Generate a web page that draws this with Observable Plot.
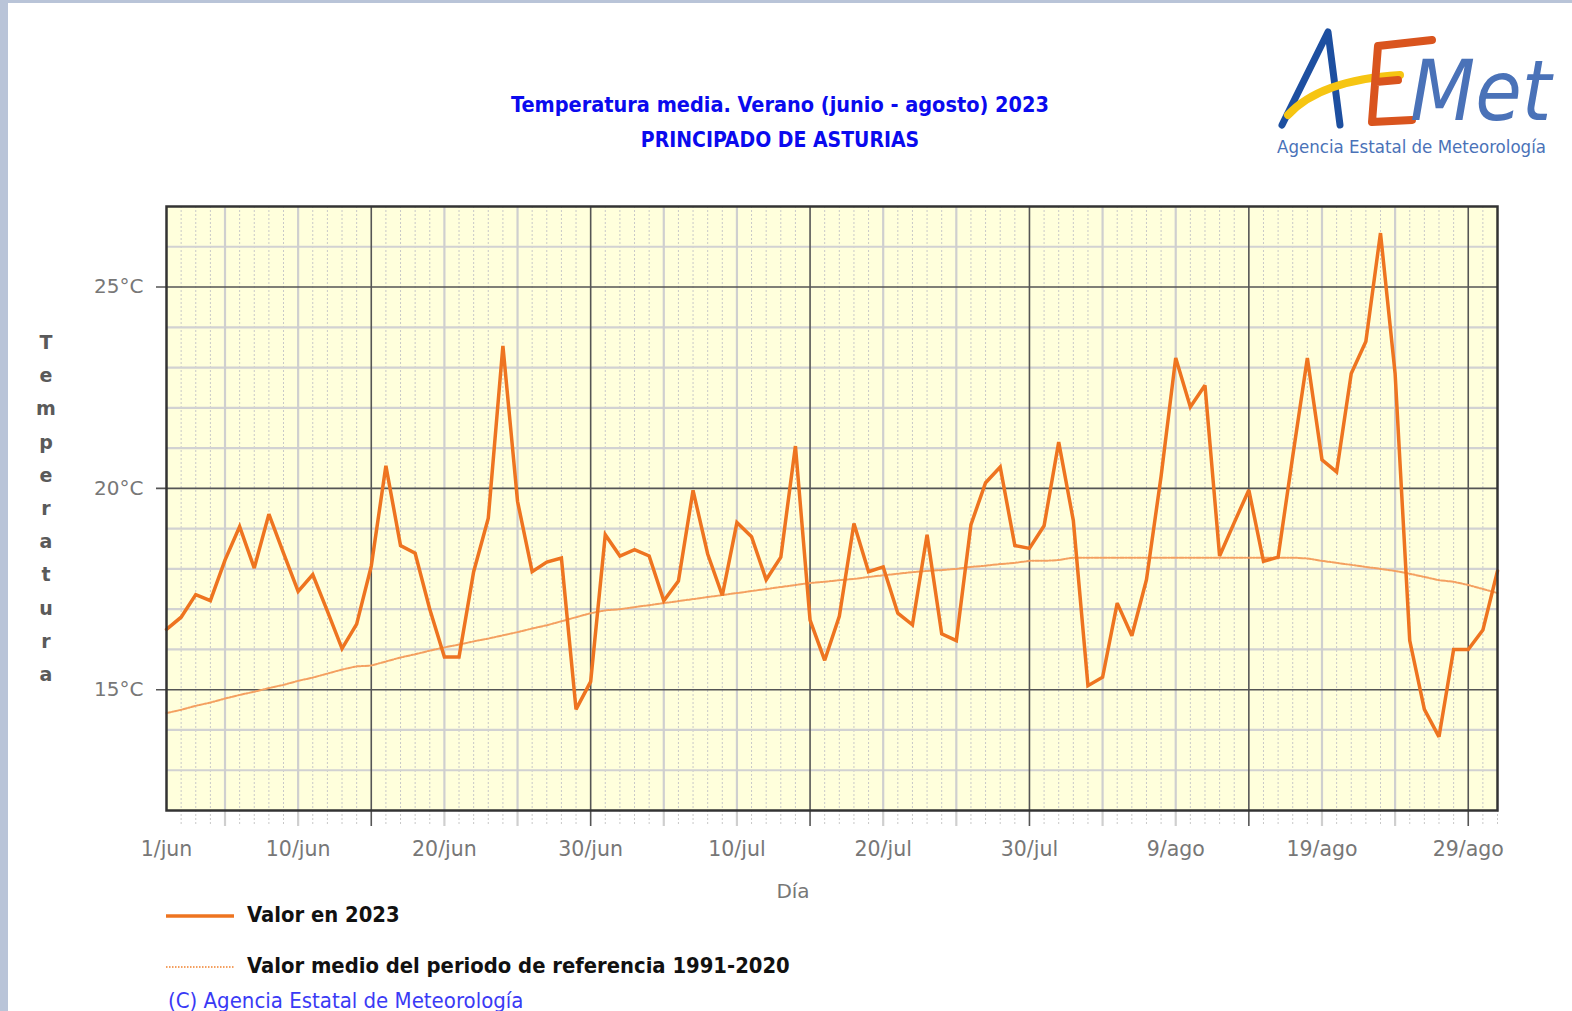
<!DOCTYPE html>
<html><head><meta charset="utf-8">
<script src="https://cdn.jsdelivr.net/npm/d3@7"></script>
<script src="https://cdn.jsdelivr.net/npm/@observablehq/plot@0.6"></script>
<style>
html,body{margin:0;padding:0}
body{background:#fff;width:1572px;height:1011px;overflow:hidden;position:relative;font-family:"DejaVu Sans",sans-serif}
.band{position:absolute;background:#b9c4d8}
.abs{position:absolute;white-space:nowrap}
.ttl{left:380px;width:800px;text-align:center;color:#0a0aee;font-weight:bold;font-stretch:condensed;font-family:"DejaVu Sans Condensed","DejaVu Sans",sans-serif}
#ylab{left:36px;top:326px;width:20px;text-align:center;color:#5a5a5a;font-weight:bold;font-size:19px;line-height:33.2px}
.leg{font-weight:bold;color:#111;font-size:21.8px;font-family:"DejaVu Sans Condensed","DejaVu Sans",sans-serif;font-stretch:condensed}
#chart{position:absolute;left:0;top:180px}
#chart svg{background:transparent}
</style></head>
<body>
<div class="band" style="left:0;top:0;width:8px;height:1011px"></div>
<div class="band" style="left:0;top:0;width:1572px;height:3px"></div>
<div class="abs ttl" style="top:92px;font-size:21.5px">Temperatura media. Verano (junio - agosto) 2023</div>
<div class="abs ttl" style="top:128px;font-size:21px">PRINCIPADO DE ASTURIAS</div>
<svg class="abs" style="left:1260px;top:20px" width="312" height="150" viewBox="0 0 312 150">
  <path d="M22 105 L68 12 L80 105" fill="none" stroke="#1d4fa0" stroke-width="7" stroke-linecap="round" stroke-linejoin="round"/>
  <path d="M28 95 Q60 60 140 55" fill="none" stroke="#f6c512" stroke-width="8" stroke-linecap="round"/>
  <path d="M172 20 L118 26 L112 102 L152 100 M116 62 L138 60" fill="none" stroke="#d9541e" stroke-width="8" stroke-linecap="round" stroke-linejoin="round"/>
  <text x="150" y="100" font-size="84" font-style="italic" font-family="DejaVu Sans Condensed, DejaVu Sans" font-stretch="condensed" fill="#4a72b8">Met</text>
  <text x="17" y="133" font-size="18.5" font-family="DejaVu Sans Condensed, DejaVu Sans" font-stretch="condensed" fill="#4a72b8">Agencia Estatal de Meteorología</text>
</svg>
<div id="ylab" class="abs">T<br>e<br>m<br>p<br>e<br>r<br>a<br>t<br>u<br>r<br>a</div>
<div id="chart"></div>
<svg class="abs" style="left:160px;top:904px" width="90" height="80">
  <line x1="6" y1="12" x2="74" y2="12" stroke="#ee7420" stroke-width="3.5"/>
  <line x1="6" y1="63" x2="74" y2="63" stroke="#f4a060" stroke-width="2" stroke-dasharray="1.5,1.5"/>
</svg>
<div class="abs leg" style="left:247px;top:902px">Valor en 2023</div>
<div class="abs leg" style="left:247px;top:953px">Valor medio del periodo de referencia 1991-2020</div>
<div class="abs" style="left:168px;top:988px;color:#3a3af5;font-size:22px;font-family:'DejaVu Sans Condensed','DejaVu Sans',sans-serif;font-stretch:condensed">(C) Agencia Estatal de Meteorología</div>
<script>
// ---- data ----
const days = [1,2,3,4,5,6,7,8,9,10,11,12,13,14,15,16,17,18,19,20,21,22,23,24,25,26,27,28,29,30,31,32,33,34,35,36,37,38,39,40,41,42,43,44,45,46,47,48,49,50,51,52,53,54,55,56,57,58,59,60,61,62,63,64,65,66,67,68,69,70,71,72,73,74,75,76,77,78,79,80,81,82,83,84,85,86,87,88,89,90,91,92];
const temp2023 = [16.5,16.8,17.36,17.21,18.22,19.05,18.02,19.36,18.39,17.44,
  17.86,16.95,16.02,16.63,18.07,20.56,18.58,18.39,17.0,15.81,
  15.81,17.93,19.26,23.54,19.68,17.93,18.17,18.27,14.51,15.2,
  18.85,18.32,18.48,18.32,17.21,17.7,19.95,18.37,17.34,19.15,
  18.8,17.73,18.29,21.05,16.73,15.73,16.82,19.13,17.93,18.05,
  16.9,16.61,18.85,16.39,16.22,19.1,20.14,20.53,18.58,18.51,
  19.07,21.15,19.2,15.1,15.31,17.15,16.34,17.73,20.3,23.24,
  22.02,22.56,18.32,19.15,19.96,18.19,18.29,20.8,23.24,20.71,
  20.41,22.85,23.65,26.34,22.85,16.22,14.51,13.83,16.0,16.0,
  16.48,17.95];
const refMean = [14.42,14.5,14.6,14.68,14.78,14.87,14.95,15.04,15.12,15.22,
  15.3,15.4,15.5,15.58,15.6,15.7,15.8,15.88,15.97,16.05,
  16.12,16.2,16.27,16.35,16.43,16.52,16.6,16.7,16.8,16.9,
  16.97,17.0,17.05,17.1,17.15,17.2,17.25,17.3,17.35,17.4,
  17.45,17.5,17.55,17.6,17.65,17.68,17.72,17.75,17.8,17.84,
  17.88,17.92,17.95,17.97,18.0,18.05,18.08,18.12,18.15,18.2,
  18.2,18.22,18.28,18.28,18.28,18.28,18.28,18.28,18.28,18.28,
  18.28,18.28,18.28,18.28,18.28,18.28,18.28,18.28,18.26,18.2,
  18.15,18.1,18.05,18.0,17.95,17.88,17.8,17.72,17.68,17.6,
  17.5,17.4];
const xTickDays = [1,10,20,30,40,50,60,70,80,90];
const xTickLabels = ["1/jun","10/jun","20/jun","30/jun","10/jul","20/jul","30/jul","9/ago","19/ago","29/ago"];
const yTicks = [15,20,25];
const yTickLabels = ["15°C","20°C","25°C"];
const yMinorGrid = [13,14,16,17,18,19,21,22,23,24,26];
const xMidGrid = [5,10,20,25,35,40,50,55,65,70,80,85];
const xMajorGrid = [15,30,45,60,75,90];

const rows = days.map((d,i)=>({day:d, t:temp2023[i], ref:refMean[i]}));
const dotDays = days.filter(d=>d>1 && !xMidGrid.includes(d) && !xMajorGrid.includes(d));
const tickFont = "DejaVu Sans, sans-serif";

const chart = Plot.plot({
  width:1572, height:720,
  marginLeft:166, marginRight:75, marginTop:26, marginBottom:90,
  style:{background:"transparent", overflow:"visible"},
  x:{domain:[1,92], axis:null},
  y:{domain:[12,27], axis:null},
  marks:[
    Plot.frame({fill:"#ffffdc", stroke:null}),
    Plot.ruleX(dotDays, {x:d=>d, stroke:"#c8c8c8", strokeWidth:1, strokeDasharray:"2,2", insetBottom:-16}),
    Plot.ruleY(yMinorGrid, {y:d=>d, stroke:"#d2d2d2", strokeWidth:2.2}),
    Plot.ruleX(xMidGrid, {x:d=>d, stroke:"#cfcfcf", strokeWidth:2.2, insetBottom:-16}),
    Plot.ruleY(yTicks, {y:d=>d, stroke:"#555", strokeWidth:1.6, insetLeft:-10}),
    Plot.ruleX(xMajorGrid, {x:d=>d, stroke:"#555", strokeWidth:1.6, insetBottom:-16}),
    Plot.line(rows, {x:"day", y:"ref", stroke:"#f4a060", strokeWidth:2, strokeDasharray:"4,1.5,1.5,1.5"}),
    Plot.line(rows, {x:"day", y:"t", stroke:"#ee7420", strokeWidth:3.5, strokeLinejoin:"miter", strokeMiterlimit:3}),
    Plot.frame({stroke:"#333", strokeWidth:2.5}),
    Plot.text(yTicks, {x:1, y:d=>d, text:(d,i)=>yTickLabels[i], dx:-23, textAnchor:"end", fill:"#777", fontSize:20, fontFamily:tickFont}),
    Plot.text(xTickDays, {x:d=>d, y:12, text:(d,i)=>xTickLabels[i], dy:39, fill:"#777", fontSize:20.5, fontFamily:tickFont}),
    Plot.text(["Día"], {frameAnchor:"bottom", dx:-39, dy:87, fill:"#777", fontSize:20, fontFamily:tickFont})
  ]
});
document.getElementById("chart").appendChild(chart);
</script>
</body></html>
